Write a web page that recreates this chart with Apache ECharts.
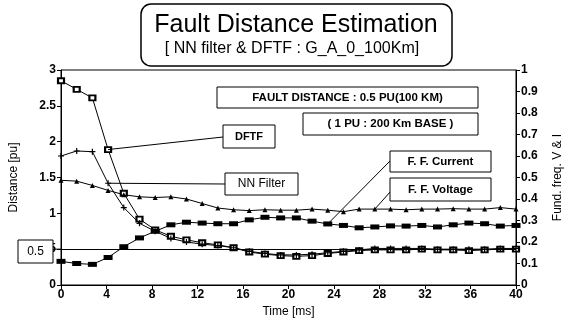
<!DOCTYPE html>
<html><head><meta charset="utf-8">
<script src="https://cdn.jsdelivr.net/npm/echarts@6/dist/echarts.min.js"></script>
<style>html,body{margin:0;padding:0;background:#fff}#c{width:572px;height:323px}</style>
</head><body><div id="c"></div>
<script>
// ---- data ----
const times = [0, 1.38, 2.76, 4.14, 5.52, 6.9, 8.28, 9.66, 11.03, 12.41, 13.79, 15.17, 16.55, 17.93, 19.31, 20.69, 22.07, 23.45, 24.83, 26.21, 27.59, 28.97, 30.34, 31.72, 33.1, 34.48, 35.86, 37.24, 38.62, 40];
const dftf = [2.85, 2.73, 2.61, 1.89, 1.28, 0.92, 0.77, 0.68, 0.63, 0.59, 0.56, 0.52, 0.46, 0.43, 0.41, 0.40, 0.41, 0.44, 0.46, 0.48, 0.49, 0.49, 0.49, 0.50, 0.49, 0.49, 0.48, 0.49, 0.50, 0.50];
const nnFilter = [1.80, 1.87, 1.86, 1.42, 1.08, 0.86, 0.75, 0.65, 0.60, 0.57, 0.55, 0.52, 0.47, 0.44, 0.42, 0.42, 0.43, 0.45, 0.47, 0.49, 0.51, 0.51, 0.51, 0.51, 0.50, 0.50, 0.50, 0.50, 0.51, 0.51];
const ffVoltage = [0.487, 0.483, 0.463, 0.44, 0.42, 0.41, 0.407, 0.41, 0.40, 0.379, 0.358, 0.35, 0.346, 0.35, 0.348, 0.348, 0.353, 0.348, 0.341, 0.353, 0.353, 0.353, 0.35, 0.353, 0.353, 0.355, 0.353, 0.353, 0.36, 0.353];
const ffCurrent = [0.11, 0.10, 0.096, 0.128, 0.178, 0.219, 0.25, 0.28, 0.292, 0.288, 0.285, 0.285, 0.303, 0.315, 0.312, 0.312, 0.297, 0.284, 0.277, 0.266, 0.27, 0.275, 0.274, 0.277, 0.27, 0.28, 0.288, 0.285, 0.274, 0.277];
const faultDistance = 0.5;
const titleText = 'Fault Distance Estimation';
const subText = '[ NN filter & DFTF : G_A_0_100Km]';

const FONT = '"Liberation Sans", Arial, Helvetica, sans-serif';
const pairs = arr => arr.map((v, i) => [times[i], v]);

const chart = echarts.init(document.getElementById('c'), null, {renderer: 'canvas'});
const axisCommon = {
  axisLine: {show: true, lineStyle: {color: '#000', width: 1}},
  axisTick: {show: true, length: 4, lineStyle: {color: '#000'}},
  splitLine: {show: false},
  axisLabel: {color: '#000', fontFamily: FONT, fontWeight: 'bold', fontSize: 12}
};
const lineCommon = {type: 'line', lineStyle: {color: '#000', width: 1}, animation: false};

chart.setOption({
  animation: false,
  textStyle: {fontFamily: FONT},
  grid: {left: 57, right: 53, top: 70, bottom: 34, show: true, borderColor: '#000', borderWidth: 1},
  xAxis: Object.assign({}, axisCommon, {
    type: 'value', min: 0, max: 40, interval: 4,
    axisLabel: Object.assign({}, axisCommon.axisLabel, {margin: 4}),
    name: 'Time [ms]', nameLocation: 'middle', nameGap: 21,
    nameTextStyle: {color: '#000', fontFamily: FONT, fontSize: 12}
  }),
  yAxis: [
    Object.assign({}, axisCommon, {
      type: 'value', min: 0, max: 3, interval: 0.5, position: 'left',
      axisLabel: Object.assign({}, axisCommon.axisLabel, {margin: 5}),
      name: 'Distance [pu]', nameLocation: 'middle', nameGap: 41, nameRotate: 90,
      nameTextStyle: {color: '#000', fontFamily: FONT, fontSize: 12}
    }),
    Object.assign({}, axisCommon, {
      type: 'value', min: 0, max: 1, interval: 0.1, position: 'right',
      axisLabel: Object.assign({}, axisCommon.axisLabel, {margin: 5}),
      name: 'Fund. freq. V & I', nameLocation: 'middle', nameGap: 36, nameRotate: 90,
      nameTextStyle: {color: '#000', fontFamily: FONT, fontSize: 12}
    })
  ],
  series: [
    Object.assign({}, lineCommon, {
      name: 'DFTF', data: pairs(dftf), yAxisIndex: 0,
      symbol: 'emptyRect', symbolSize: [6, 5], itemStyle: {color: '#000'},
      markLine: {silent: true, symbol: 'none', label: {show: false},
        lineStyle: {color: '#000', width: 1, type: 'solid'}, data: [{yAxis: faultDistance}]}
    }),
    Object.assign({}, lineCommon, {
      name: 'NN Filter', data: pairs(nnFilter), yAxisIndex: 0,
      symbol: 'path://M5,0L5,10M0,5L10,5', symbolSize: 6,
      itemStyle: {color: '#000', borderColor: '#000', borderWidth: 1.2}
    }),
    Object.assign({}, lineCommon, {
      name: 'F. F. Voltage', data: pairs(ffVoltage), yAxisIndex: 1,
      symbol: 'triangle', symbolSize: 5, itemStyle: {color: '#000'}
    }),
    Object.assign({}, lineCommon, {
      name: 'F. F. Current', data: pairs(ffCurrent), yAxisIndex: 1,
      symbol: 'rect', symbolSize: [9, 5], itemStyle: {color: '#000'}
    })
  ]
});

const px = (x, y, yi) => chart.convertToPixel({xAxisIndex: 0, yAxisIndex: yi}, [x, y]);
const box = (x, y, w, h, text, size, weight) => ({
  type: 'group', children: [
    {type: 'rect', shape: {x: x, y: y, width: w, height: h}, style: {fill: '#fff', stroke: '#000', lineWidth: 1}, z: 10},
    {type: 'text', x: x + w / 2, y: y + h / 2, z: 11,
     style: {text: text, fill: '#000', font: (weight || 'bold') + ' ' + (size || 11) + 'px ' + FONT, textAlign: 'center', textVerticalAlign: 'middle'}}
  ]});
const seg = (a, b) => ({type: 'line', z: 9, shape: {x1: a[0], y1: a[1], x2: b[0], y2: b[1]}, style: {stroke: '#000', lineWidth: 1}});

const pD = px(times[3], dftf[3], 0);
const pN = px(times[3], nnFilter[3], 0);
const pC = px(times[17], ffCurrent[17], 1);
const pV = px(times[20], ffVoltage[20], 1);
const p05 = px(0, faultDistance, 0);

chart.setOption({
  graphic: [
    {type: 'rect', shape: {x: 141, y: 4, width: 311, height: 62, r: 10}, style: {fill: '#fff', stroke: '#000', lineWidth: 1.5}},
    {type: 'text', x: 296, y: 25, style: {text: titleText, fill: '#000', font: '25px ' + FONT, textAlign: 'center', textVerticalAlign: 'middle'}},
    {type: 'text', x: 292, y: 49, style: {text: subText, fill: '#000', font: '16px ' + FONT, textAlign: 'center', textVerticalAlign: 'middle'}},
    seg(pD, [223, 137]),
    seg(pN, [225, 184]),
    seg(pC, [391, 160]),
    seg(pV, [391, 191]),
    seg([53, p05[1]], [p05[0], p05[1]]),
    box(217, 87, 261, 21, 'FAULT DISTANCE : 0.5 PU(100 KM)', 11.5),
    box(303, 113, 175, 22, '( 1 PU : 200 Km BASE )', 11.5),
    box(223, 125, 52, 23, 'DFTF', 11),
    box(225, 173, 73, 22, 'NN Filter', 12, 'normal'),
    box(390, 151, 101, 21, 'F. F. Current', 11.5),
    box(390, 178, 101, 23, 'F. F. Voltage', 11.5),
    box(18, 240, 35, 23, '0.5', 12, 'normal')
  ]
});
</script></body></html>
